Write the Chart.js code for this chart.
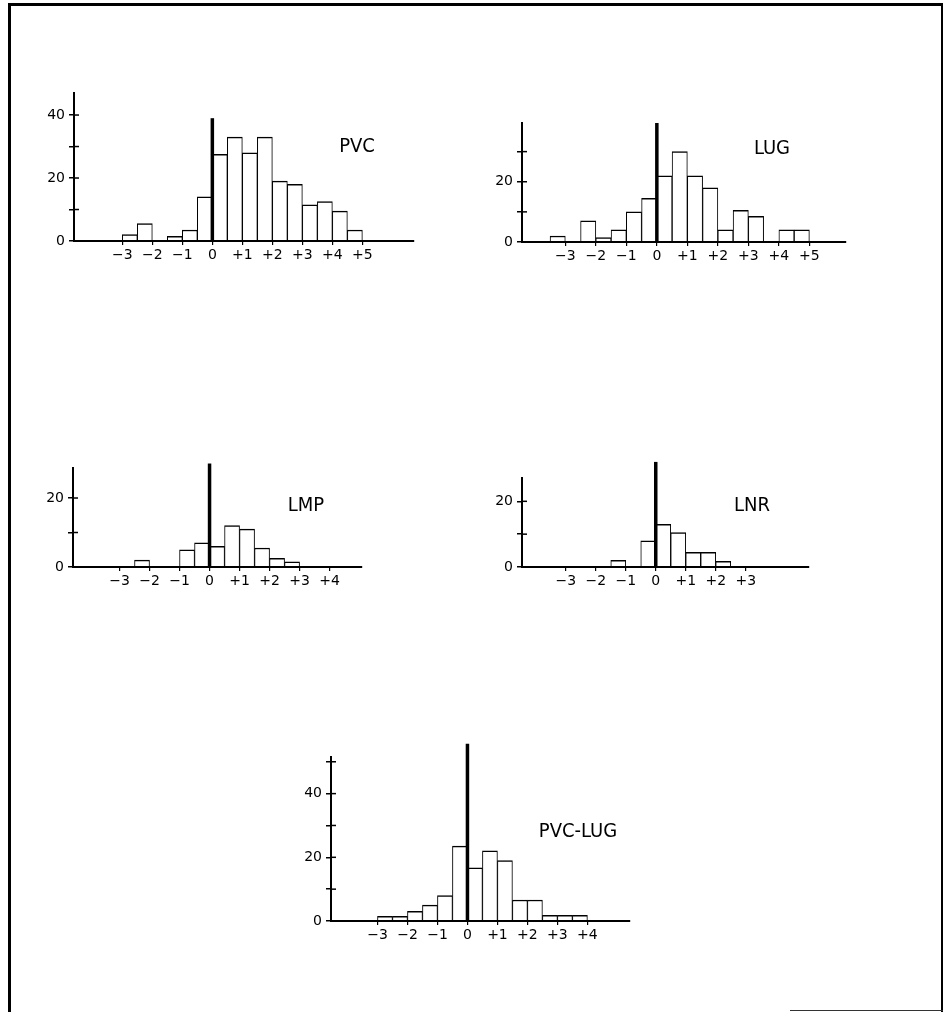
<!DOCTYPE html>
<html>
<head>
<meta charset="utf-8">
<script src="https://cdn.jsdelivr.net/npm/chart.js@4/dist/chart.umd.min.js"></script>
<style>
  body { margin: 0; background: #fff; width: 945px; height: 1012px; position: relative; overflow: hidden; }
  #frame { position: absolute; left: 8px; top: 3px; width: 930px; height: 1030px;
           border-left: 3px solid #000; border-top: 3px solid #000; border-right: 2px solid #000; }
  #foot { position: absolute; left: 790px; top: 1010px; width: 153px; height: 0; border-top: 1.5px solid #333; }
  canvas { position: absolute; }
  .name { position: absolute; transform: translate(-50%, -50%); color: #000; white-space: nowrap;
          font: 20px 'Liberation Sans Narrow', 'DejaVu Sans Condensed', 'Liberation Sans', sans-serif; }
</style>
</head>
<body>
<div id="frame"></div>
<div id="foot"></div>

<script>
// histogram bins are half a unit wide
const binWidth = 0.5;

// PVC
const pvcStart = -3;
const pvcCounts = [2, 5.5, 0, 1.5, 3.5, 14, 27.5, 33, 28, 33, 19, 18, 11.5, 12.5, 9.5, 3.5];
const pvcZeroLine = 39;
const pvcXTicks = [-3, -2, -1, 0, 1, 2, 3, 4, 5];
const pvcYTicks = [0, 10, 20, 30, 40];
const pvcYLabels = [0, 20, 40];

// LUG
const lugStart = -3.5;
const lugCounts = [2, 0, 7, 1.5, 4, 10, 14.5, 22, 30, 22, 18, 4, 10.5, 8.5, 0, 4, 4];
const lugZeroLine = 39.5;
const lugXTicks = [-3, -2, -1, 0, 1, 2, 3, 4, 5];
const lugYTicks = [0, 10, 20, 30];
const lugYLabels = [0, 20];

// LMP
const lmpStart = -2.5;
const lmpCounts = [2, 0, 0, 5, 7, 6, 12, 11, 5.5, 2.5, 1.5];
const lmpZeroLine = 30;
const lmpXTicks = [-3, -2, -1, 0, 1, 2, 3, 4];
const lmpYTicks = [0, 10, 20];
const lmpYLabels = [0, 20];

// LNR
const lnrStart = -1.5;
const lnrCounts = [2, 0, 8, 13, 10.5, 4.5, 4.5, 1.7];
const lnrZeroLine = 32;
const lnrXTicks = [-3, -2, -1, 0, 1, 2, 3];
const lnrYTicks = [0, 10, 20];
const lnrYLabels = [0, 20];

// PVC-LUG
const diffStart = -3;
const diffCounts = [1.5, 1.5, 3, 5, 8, 23.5, 16.7, 22, 19, 6.6, 6.6, 1.8, 1.8, 1.8];
const diffZeroLine = 55.7;
const diffXTicks = [-3, -2, -1, 0, 1, 2, 3, 4];
const diffYTicks = [0, 10, 20, 30, 40, 50];
const diffYLabels = [0, 20, 40];

// where each little chart sits on the page (plot area in px) and its axis extents
const panels = [
  { name: 'PVC', start: pvcStart, counts: pvcCounts, zero: pvcZeroLine, xTicks: pvcXTicks, yTicks: pvcYTicks, yLabels: pvcYLabels,
    left: 74, right: 414, top: 93, bottom: 241, xMin: -4.61, xMax: 6.72, yMax: 47, nameX: 357, nameY: 145 },
  { name: 'LUG', start: lugStart, counts: lugCounts, zero: lugZeroLine, xTicks: lugXTicks, yTicks: lugYTicks, yLabels: lugYLabels,
    left: 522, right: 846, top: 123, bottom: 242, xMin: -4.42, xMax: 6.2, yMax: 39.5, nameX: 772, nameY: 147 },
  { name: 'LMP', start: lmpStart, counts: lmpCounts, zero: lmpZeroLine, xTicks: lmpXTicks, yTicks: lmpYTicks, yLabels: lmpYLabels,
    left: 73, right: 362, top: 468, bottom: 567, xMin: -4.55, xMax: 5.08, yMax: 28.7, nameX: 306, nameY: 504 },
  { name: 'LNR', start: lnrStart, counts: lnrCounts, zero: lnrZeroLine, xTicks: lnrXTicks, yTicks: lnrYTicks, yLabels: lnrYLabels,
    left: 522, right: 809, top: 478, bottom: 567, xMin: -4.46, xMax: 5.11, yMax: 27.1, nameX: 752, nameY: 504 },
  { name: 'PVC-LUG', start: diffStart, counts: diffCounts, zero: diffZeroLine, xTicks: diffXTicks, yTicks: diffYTicks, yLabels: diffYLabels,
    left: 331, right: 630, top: 757, bottom: 921, xMin: -4.55, xMax: 5.42, yMax: 51.5, nameX: 578, nameY: 830 }
];

const PAD_L = 50, PAD_T = 20, PAD_R = 10, PAD_B = 30;
const tickFont = { family: "'DejaVu Sans', 'Liberation Sans', sans-serif", size: 14 };

function fmtX(v) {
  if (v > 0) return '+' + v;
  if (v < 0) return '\u2212' + Math.abs(v);
  return '0';
}

// tick marks on the y axis cross it, so draw the inner half too
const innerTicks = {
  id: 'innerTicks',
  afterDraw(chart) {
    const y = chart.scales.y;
    const ctx = chart.ctx;
    const x0 = chart.chartArea.left;
    ctx.save();
    ctx.strokeStyle = '#000';
    ctx.lineWidth = 1.5;
    y.ticks.forEach(t => {
      if (t.value === 0) return;
      const py = y.getPixelForValue(t.value);
      ctx.beginPath();
      ctx.moveTo(x0, py);
      ctx.lineTo(x0 + 5, py);
      ctx.stroke();
    });
    ctx.restore();
  }
};

panels.forEach(p => {
  const canvas = document.createElement('canvas');
  const w = p.right - p.left + PAD_L + PAD_R;
  const h = p.bottom - p.top + PAD_T + PAD_B;
  canvas.width = w;
  canvas.height = h;
  canvas.style.width = w + 'px';
  canvas.style.height = h + 'px';
  canvas.style.left = (p.left - PAD_L) + 'px';
  canvas.style.top = (p.top - PAD_T) + 'px';
  document.body.appendChild(canvas);

  const label = document.createElement('div');
  label.className = 'name';
  label.textContent = p.name;
  label.style.left = p.nameX + 'px';
  label.style.top = p.nameY + 'px';
  document.body.appendChild(label);

  const bins = p.counts.map((c, i) => ({ x: p.start + binWidth * (i + 0.5), y: c === 0 ? null : c }));

  new Chart(canvas.getContext('2d'), {
    type: 'bar',
    data: {
      datasets: [
        {
          type: 'line',
          data: [{ x: 0, y: 0 }, { x: 0, y: p.zero }],
          borderColor: '#000',
          borderWidth: 3.5,
          pointRadius: 0,
          borderCapStyle: 'butt',
          clip: false,
          order: 0
        },
        {
          type: 'bar',
          data: bins,
          backgroundColor: '#fff',
          borderColor: '#000',
          borderWidth: { top: 1.5, left: 1, right: 1, bottom: 0 },
          barPercentage: 1,
          categoryPercentage: 1,
          clip: false,
          order: 1
        }
      ]
    },
    options: {
      responsive: false,
      animation: false,
      devicePixelRatio: 1,
      events: [],
      layout: { padding: { left: 0, top: PAD_T, right: PAD_R, bottom: 0 } },
      plugins: { legend: { display: false }, tooltip: { enabled: false } },
      scales: {
        x: {
          type: 'linear',
          min: p.xMin,
          max: p.xMax,
          offset: false,
          afterBuildTicks: s => { s.ticks = p.xTicks.map(v => ({ value: v })); },
          afterFit: s => { s.height = PAD_B; },
          grid: { offset: false, drawOnChartArea: false, drawTicks: true, tickLength: 4, color: '#000', lineWidth: 1.2 },
          border: { color: '#000', width: 2, z: 1 },
          ticks: { autoSkip: false, maxRotation: 0, padding: 2, color: '#000', font: tickFont, callback: v => fmtX(v) }
        },
        y: {
          min: 0,
          max: p.yMax,
          afterBuildTicks: s => { s.ticks = p.yTicks.map(v => ({ value: v })); },
          afterFit: s => { s.width = PAD_L; },
          grid: { drawOnChartArea: false, drawTicks: true, tickLength: 5, color: '#000', lineWidth: 1.5 },
          border: { color: '#000', width: 2, z: 1 },
          ticks: { autoSkip: false, padding: 4, color: '#000', font: tickFont,
                   callback: v => p.yLabels.includes(v) ? String(v) : '' }
        }
      }
    },
    plugins: [innerTicks]
  });
});
</script>
</body>
</html>
